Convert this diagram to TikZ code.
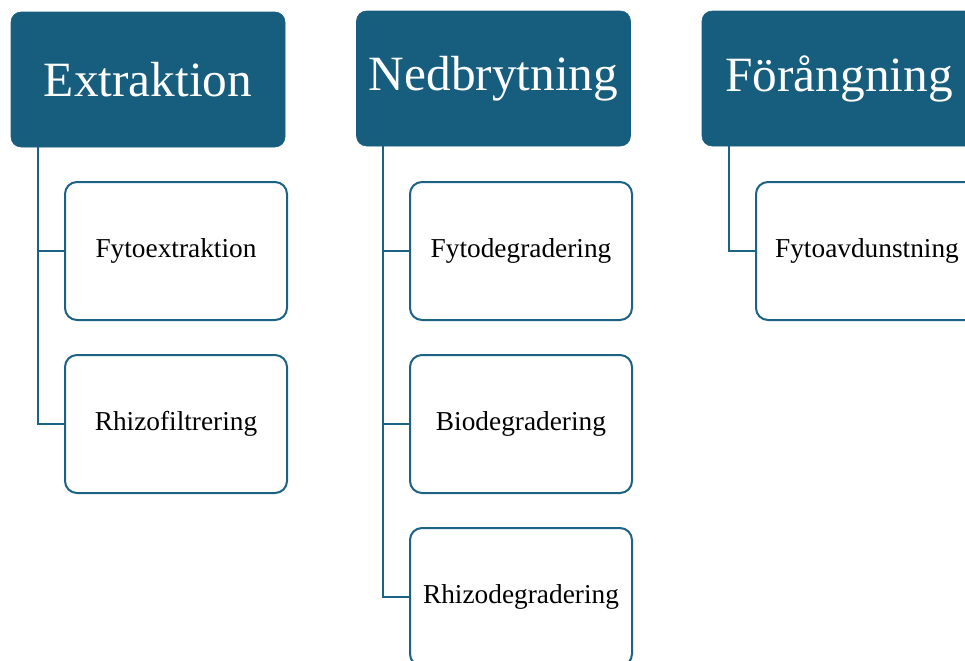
\documentclass[tikz,border=0pt]{standalone}
\usepackage{fontspec}
\setmainfont{Liberation Serif}
\definecolor{hdrfill}{RGB}{23,94,126}
\definecolor{lineblue}{RGB}{28,98,132}
\begin{document}
\begin{tikzpicture}[x=0.75pt,y=-0.75pt,
  header/.style={draw=hdrfill,fill=hdrfill,rounded corners=7.5pt,minimum width=205.5pt,minimum height=101.25pt,inner sep=0pt,text=white,font=\fontsize{37}{41}\selectfont},
  child/.style={draw=lineblue,line width=1.5pt,fill=white,rounded corners=9pt,minimum width=166.5pt,minimum height=103.5pt,inner sep=0pt,font=\fontsize{20.5}{24}\selectfont},
  conn/.style={draw=lineblue,line width=1.5pt}]
\useasboundingbox (0,0) rectangle (965,661);
\clip (0,0) rectangle (965,661);
\node[header] (h1) at (148,79.5) {Extraktion};
\node[header] (h2) at (493.5,78.5) {Nedbrytning};
\node[header] (h3) at (839,78.5) {Förångning};
\node[child] (c11) at (176,251) {Fytoextraktion};
\node[child] (c12) at (176,424) {Rhizofiltrering};
\node[child] (c21) at (521,251) {Fytodegradering};
\node[child] (c22) at (521,424) {Biodegradering};
\node[child] (c23) at (521,597) {Rhizodegradering};
\node[child] (c31) at (867,251) {Fytoavdunstning};
\draw[conn] ([xshift=20.25pt]h1.south west) |- (c11.west);
\draw[conn] ([xshift=20.25pt]h1.south west) |- (c12.west);
\draw[conn] ([xshift=20.25pt]h2.south west) |- (c21.west);
\draw[conn] ([xshift=20.25pt]h2.south west) |- (c22.west);
\draw[conn] ([xshift=20.25pt]h2.south west) |- (c23.west);
\draw[conn] ([xshift=20.25pt]h3.south west) |- (c31.west);
\end{tikzpicture}
\end{document}
